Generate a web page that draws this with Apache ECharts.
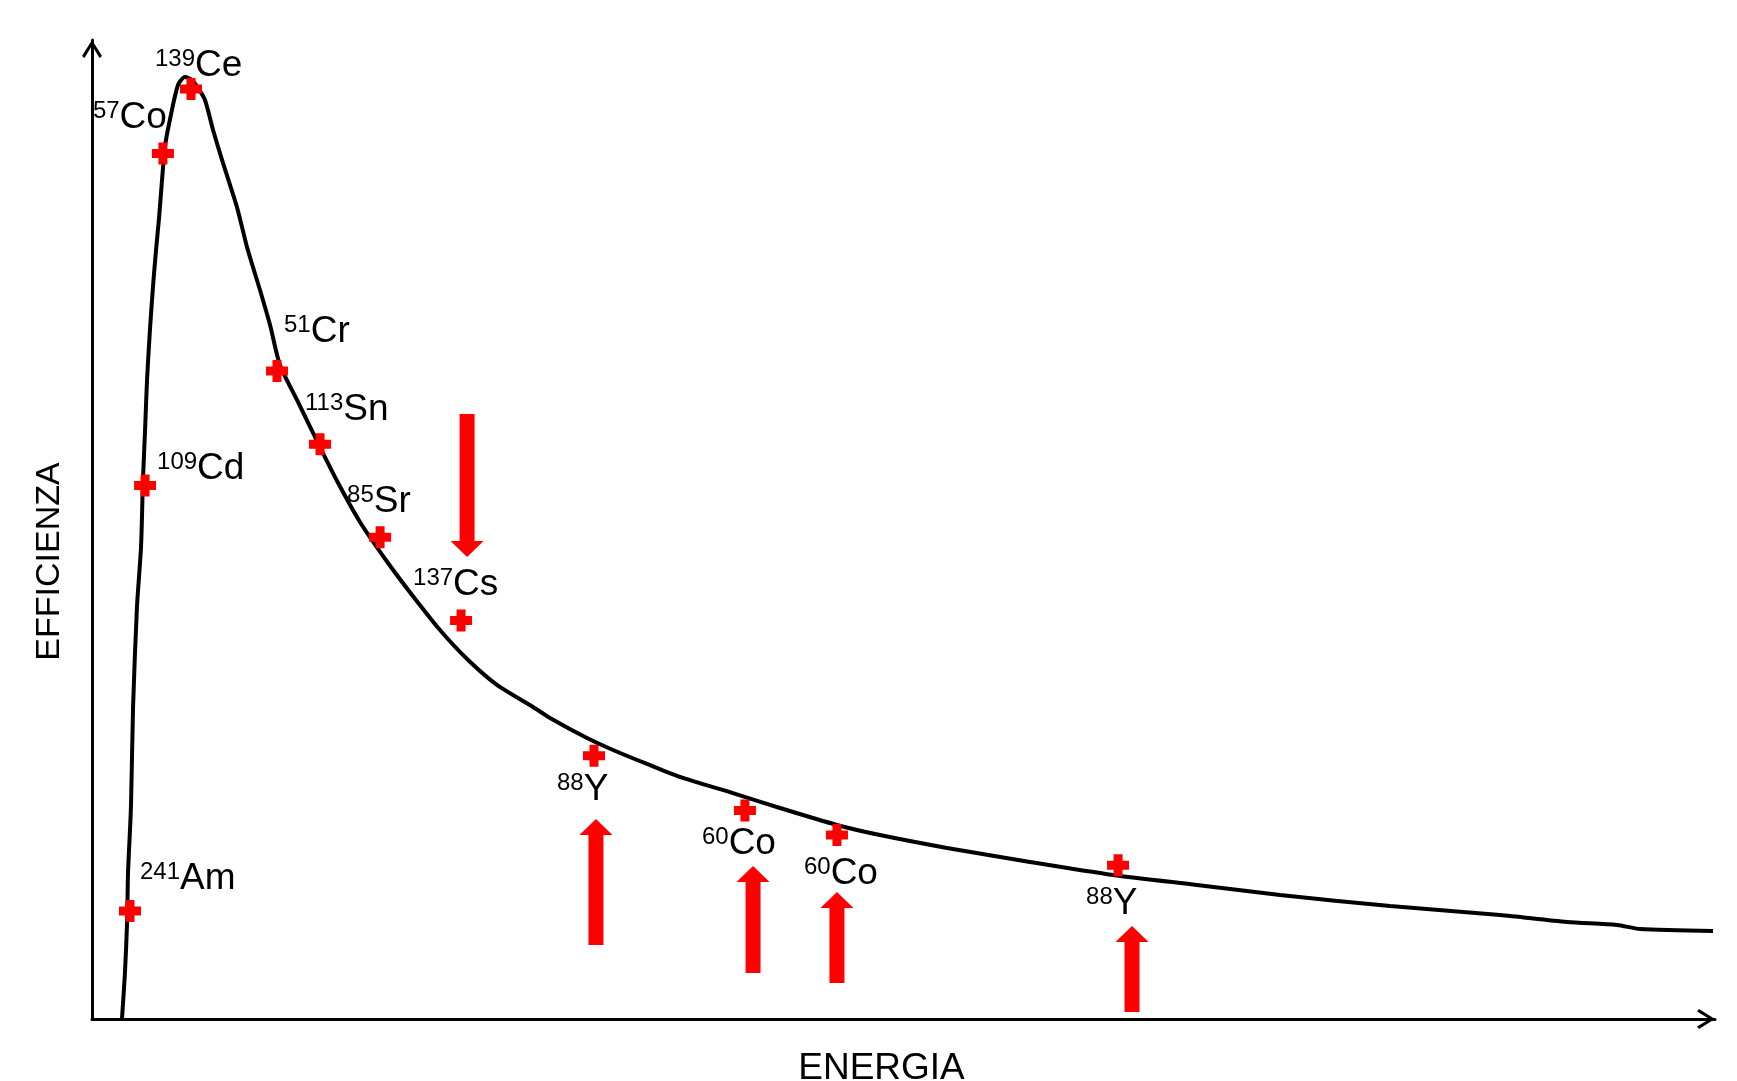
<!DOCTYPE html>
<html>
<head>
<meta charset="utf-8">
<title>Efficienza - Energia</title>
<script src="https://cdn.jsdelivr.net/npm/echarts@6/dist/echarts.min.js"></script>
<style>
  html, body { margin: 0; padding: 0; background: #fff; }
  #chart { width: 1737px; height: 1081px; }
</style>
</head>
<body>
<div id="chart"></div>
<script>
// curva di efficienza (scala arbitraria 0-100 su entrambi gli assi)
const curveEnergy = [1.85, 2.03, 2.16, 2.22, 2.40, 2.53, 2.77, 3.02, 3.14, 3.27, 3.39, 3.57, 3.76, 3.94, 4.13, 4.31, 4.50, 4.81, 5.30, 5.73, 6.16, 6.53, 6.96, 7.46, 8.07, 8.93, 9.55, 10.35, 10.97, 11.58, 12.63, 13.92, 15.10, 16.51, 18.24, 19.72, 21.44, 23.11, 24.95, 27.17, 28.22, 30.50, 32.10, 34.20, 36.41, 39.49, 42.39, 45.90, 48.55, 52.68, 57.79, 62.91, 68.08, 73.20, 79.98, 86.75, 90.88, 93.96, 95.38, 99.88]
const curveEfficiency = [0.10, 4.70, 9.81, 14.91, 21.65, 31.87, 42.08, 48.21, 55.06, 60.16, 65.27, 70.38, 74.87, 78.45, 81.82, 85.60, 89.17, 91.93, 95.40, 96.22, 95.91, 95.10, 93.87, 90.81, 87.44, 82.94, 78.86, 74.46, 70.89, 66.80, 63.23, 58.84, 54.95, 50.77, 46.58, 43.31, 39.73, 36.77, 34.12, 31.87, 30.75, 28.70, 27.48, 26.05, 24.62, 23.08, 21.55, 19.82, 18.79, 17.47, 16.04, 14.71, 13.69, 12.67, 11.54, 10.62, 9.91, 9.60, 9.19, 8.99]

// sorgenti di calibrazione
const massNumbers = ['241', '109', '57', '139', '51', '113', '85', '137', '88', '60', '60', '88']
const elements = ['Am', 'Cd', 'Co', 'Ce', 'Cr', 'Sn', 'Sr', 'Cs', 'Y', 'Co', 'Co', 'Y']
const sourceEnergy = [2.34, 3.27, 4.37, 6.10, 11.40, 14.05, 17.75, 22.74, 30.93, 40.23, 45.90, 63.22]
const sourceEfficiency = [11.03, 54.5, 88.4, 95.0, 66.2, 58.7, 49.2, 40.7, 26.9, 21.3, 18.8, 15.7]

// frecce rosse: energia, inizio, punta
const arrowEnergy = [23.11, 31.05, 40.73, 45.90, 64.08]
const arrowFrom = [61.80, 7.56, 4.70, 3.68, 0.72]
const arrowTo = [47.19, 20.43, 15.63, 12.97, 9.50]

// posizione delle etichette rispetto al marker (px)
const labelOffsets = [[10, -51], [12, -35], [-70, -54], [-36, -42], [7, -58], [-15, -53], [-33, -54], [-48, -54], [-37, 16], [-43, 15], [-33, 20], [-32, 20]]

const FONT = '"Liberation Sans", Arial, sans-serif'
const chevron = 'path://M0,16L10,0L20,16L17.5,18L10,5.5L2.5,18Z'
const plus = 'path://M6.5,0H15.5V6.5H22V15.5H15.5V22H6.5V15.5H0V6.5H6.5Z'

const axisLine = {
  show: true,
  onZero: false,
  symbol: ['none', chevron],
  symbolSize: [20, 18],
  symbolOffset: [0, -9],
  lineStyle: { color: '#000', width: 3 }
}

const chart = echarts.init(document.getElementById('chart'))

const option = {
  animation: false,
  backgroundColor: '#fff',
  grid: { left: 92, right: 22, top: 40, bottom: 62, outerBoundsMode: 'none' },
  xAxis: {
    type: 'value',
    min: 0,
    max: 100,
    axisLine,
    axisTick: { show: false },
    axisLabel: { show: false },
    splitLine: { show: false },
    name: 'ENERGIA',
    nameLocation: 'middle',
    nameGap: 31,
    nameTextStyle: { fontSize: 37, color: '#000', fontFamily: FONT, padding: [0, 44, 0, 0] }
  },
  yAxis: {
    type: 'value',
    min: 0,
    max: 100,
    axisLine,
    axisTick: { show: false },
    axisLabel: { show: false },
    splitLine: { show: false },
    name: 'EFFICIENZA',
    nameLocation: 'middle',
    nameRotate: 90,
    nameGap: 25,
    nameTextStyle: { fontSize: 34, color: '#000', fontFamily: FONT, padding: [0, 64, 0, 0] }
  },
  series: [
    {
      type: 'line',
      data: curveEnergy.map((x, i) => [x, curveEfficiency[i]]),
      showSymbol: false,
      smooth: 0.25,
      lineStyle: { color: '#000', width: 4 },
      z: 2
    },
    {
      type: 'custom',
      data: arrowEnergy.map((x, i) => [x, arrowFrom[i], arrowTo[i]]),
      encode: { x: 0, y: [1, 2] },
      renderItem: (params, api) => {
        const tail = api.coord([api.value(0), api.value(1)])
        const tip = api.coord([api.value(0), api.value(2)])
        const dir = tip[1] > tail[1] ? 1 : -1
        const cx = tail[0]
        const neck = tip[1] - dir * 16
        return {
          type: 'polygon',
          shape: {
            points: [
              [cx - 7.5, tail[1]], [cx + 7.5, tail[1]], [cx + 7.5, neck],
              [cx + 16.5, neck], [cx, tip[1]], [cx - 16.5, neck], [cx - 7.5, neck]
            ]
          },
          style: { fill: '#ff0000' }
        }
      },
      z: 3
    },
    {
      type: 'scatter',
      data: sourceEnergy.map((x, i) => ({
        value: [x, sourceEfficiency[i]],
        label: { offset: labelOffsets[i] }
      })),
      symbol: plus,
      symbolSize: 22,
      itemStyle: { color: '#ff0000', opacity: 1 },
      label: {
        show: true,
        position: 'inside',
        align: 'left',
        verticalAlign: 'top',
        formatter: p => '{sup|' + massNumbers[p.dataIndex] + '}{el|' + elements[p.dataIndex] + '}',
        rich: {
          sup: { fontSize: 24, lineHeight: 27, verticalAlign: 'top', color: '#000', fontFamily: FONT },
          el: { fontSize: 37, lineHeight: 42, verticalAlign: 'top', color: '#000', fontFamily: FONT }
        }
      },
      z: 4
    }
  ]
}

chart.setOption(option)
window.addEventListener('resize', () => chart.resize())
</script>
</body>
</html>
